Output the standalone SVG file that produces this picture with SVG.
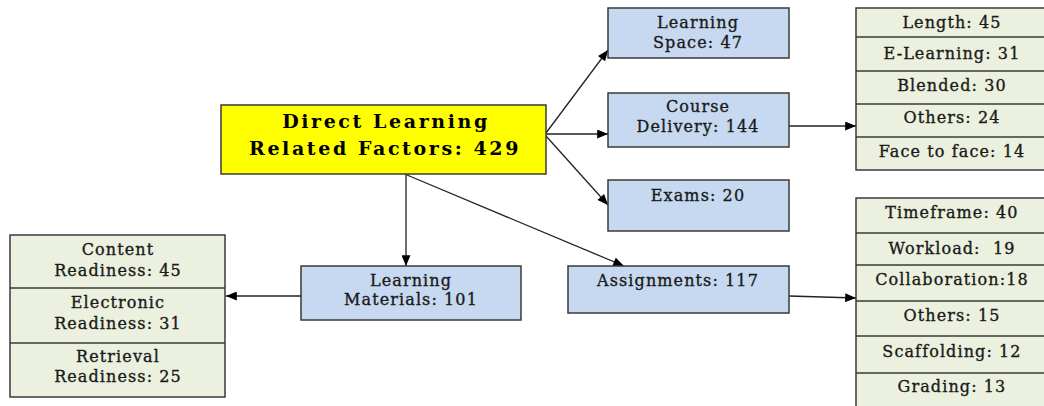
<svg xmlns="http://www.w3.org/2000/svg" width="1044" height="406" viewBox="0 0 1044 406">
<defs>
<marker id="ah" viewBox="0 0 12 10" refX="12" refY="5" markerWidth="12" markerHeight="9" markerUnits="userSpaceOnUse" orient="auto">
<path d="M0,0 L12,5 L0,10 z" fill="#000"/>
</marker>
<style>
.t{font-family:"DejaVu Serif","Liberation Serif",serif;font-size:16px;fill:#1a1a1a;stroke:#1a1a1a;stroke-width:0.35;text-anchor:middle;letter-spacing:1.1px;white-space:pre}
.h{font-family:"DejaVu Serif","Liberation Serif",serif;font-size:19px;font-weight:bold;fill:#000;text-anchor:middle;letter-spacing:2.6px}
.blue{fill:#C6D9F0;stroke:#3a3a3a;stroke-width:1.5}
.green{fill:#EBF1DE;stroke:#3a3a3a;stroke-width:1.5}
.yel{fill:#FFFF00;stroke:#3a3a3a;stroke-width:1.5}
.div{stroke:#3a3a3a;stroke-width:1.3}
.c{stroke:#222;stroke-width:1.3;fill:none;marker-end:url(#ah)}
</style>
</defs>
<rect width="1044" height="406" fill="#fff"/>
<g id="connectors">
<line class="c" x1="546" y1="133" x2="608" y2="50"/>
<line class="c" x1="546" y1="134" x2="608" y2="134"/>
<line class="c" x1="546" y1="136" x2="608" y2="205"/>
<line class="c" x1="789" y1="126" x2="856" y2="126"/>
<line class="c" x1="406" y1="174" x2="406" y2="266"/>
<line class="c" x1="407" y1="175" x2="624" y2="266"/>
<line class="c" x1="789" y1="296" x2="856" y2="298"/>
<line class="c" x1="301" y1="296" x2="226" y2="296"/>
</g>
<g id="main">
<rect class="yel" x="221" y="105" width="325" height="69"/>
<text class="h" x="386" y="128">Direct Learning</text>
<text class="h" x="385" y="155">Related Factors: 429</text>
</g>
<g id="learning-space">
<rect class="blue" x="608" y="8" width="181" height="50"/>
<text class="t" x="698" y="28">Learning</text>
<text class="t" x="698" y="48">Space: 47</text>
</g>
<g id="course-delivery">
<rect class="blue" x="608" y="93" width="181" height="54"/>
<text class="t" x="698" y="112">Course</text>
<text class="t" x="698" y="132">Delivery: 144</text>
</g>
<g id="exams">
<rect class="blue" x="608" y="180" width="181" height="51"/>
<text class="t" x="698" y="201">Exams: 20</text>
</g>
<g id="learning-materials">
<rect class="blue" x="301" y="266" width="220" height="54"/>
<text class="t" x="411" y="286">Learning</text>
<text class="t" x="411" y="305">Materials: 101</text>
</g>
<g id="assignments">
<rect class="blue" x="568" y="266" width="221" height="47"/>
<text class="t" x="678" y="286">Assignments: 117</text>
</g>
<g id="delivery-details">
<rect class="green" x="856" y="8" width="190" height="162"/>
<line class="div" x1="856" y1="37" x2="1044" y2="37"/>
<line class="div" x1="856" y1="71" x2="1044" y2="71"/>
<line class="div" x1="856" y1="104" x2="1044" y2="104"/>
<line class="div" x1="856" y1="137" x2="1044" y2="137"/>
<text class="t" x="952" y="28">Length: 45</text>
<text class="t" x="952" y="59">E-Learning: 31</text>
<text class="t" x="952" y="91">Blended: 30</text>
<text class="t" x="952" y="123">Others: 24</text>
<text class="t" x="952" y="157">Face to face: 14</text>
</g>
<g id="assignment-details">
<rect class="green" x="856" y="198" width="190" height="212"/>
<line class="div" x1="856" y1="233" x2="1044" y2="233"/>
<line class="div" x1="856" y1="265" x2="1044" y2="265"/>
<line class="div" x1="856" y1="301" x2="1044" y2="301"/>
<line class="div" x1="856" y1="336" x2="1044" y2="336"/>
<line class="div" x1="856" y1="373" x2="1044" y2="373"/>
<text class="t" x="952" y="218">Timeframe: 40</text>
<text class="t" x="952" y="254" xml:space="preserve">Workload:  19</text>
<text class="t" x="952" y="285">Collaboration:18</text>
<text class="t" x="952" y="321">Others: 15</text>
<text class="t" x="952" y="357">Scaffolding: 12</text>
<text class="t" x="952" y="392">Grading: 13</text>
</g>
<g id="materials-details">
<rect class="green" x="10" y="235" width="215" height="162"/>
<line class="div" x1="10" y1="288" x2="225" y2="288"/>
<line class="div" x1="10" y1="343" x2="225" y2="343"/>
<text class="t" x="118" y="255">Content</text>
<text class="t" x="118" y="276">Readiness: 45</text>
<text class="t" x="118" y="308">Electronic</text>
<text class="t" x="118" y="329">Readiness: 31</text>
<text class="t" x="118" y="362">Retrieval</text>
<text class="t" x="118" y="382">Readiness: 25</text>
</g>
</svg>
